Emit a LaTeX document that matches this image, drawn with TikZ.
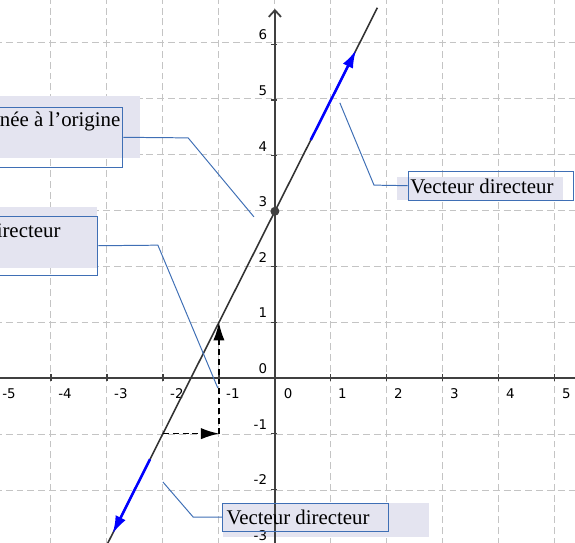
\documentclass[tikz,border=0pt]{standalone}
\usepackage{fontspec}
\setmainfont{Liberation Serif}
\newfontfamily\tickfont{DejaVu Sans}
\usetikzlibrary{arrows.meta}

\definecolor{shade}{HTML}{E4E4F0}
\definecolor{frame}{HTML}{3F6FB5}
\definecolor{gridgray}{HTML}{C4C4C4}

\tikzset{
    gridline/.style={gridgray, line width=0.5pt, dash pattern=on 3.5pt off 2pt},
    axisline/.style={black!75, line width=0.9pt},
    tick/.style={font=\tickfont\fontsize{6.8}{7}\selectfont, inner sep=0pt},
    callbox/.style={draw=frame, line width=0.5pt, inner sep=0pt},
    shadebox/.style={fill=shade, inner sep=0pt},
    calltext/.style={font=\fontsize{10.6}{12}\selectfont, inner sep=0pt},
    leader/.style={frame, line width=0.5pt},
    vec/.style={blue, line width=1.3pt, -{Latex[length=3.2mm, width=2mm]}},
    pentearrow/.style={black, line width=0.7pt, dash pattern=on 3pt off 2pt, -{Latex[length=3.2mm, width=2mm]}},
}

\begin{document}
\begin{tikzpicture}[>=Stealth, semithick, x=1cm, y=0.993cm]
    \useasboundingbox (-4.91,-2.95) rectangle (5.36,6.80);
    % grille
    \draw[gridline] (-5,-3) grid (5.5,6.9);
    % cadres des legendes (fond)
    \node[shadebox, minimum width=3.57cm, minimum height=1.11cm] (fondOrig) at (-4.20,4.51) {};
    \node[shadebox, minimum width=3.34cm, minimum height=1.09cm] (fondDirA) at (-4.85,2.53) {};
    \node[shadebox, minimum width=2.96cm, minimum height=0.41cm] (fondDirB) at (3.66,3.41) {};
    \node[shadebox, minimum width=3.68cm, minimum height=0.61cm] (fondDirC) at (0.91,-2.55) {};
    % axes
    \draw[axisline] (-5.2,0) -- (5.5,0);
    \draw[axisline, -{Straight Barb[length=1.2mm, width=2.2mm]}] (0,-3.2) -- (0,6.64);
    \foreach \x in {-5,-4,-3,-2,-1,1,2,3,4,5} {
        \draw[axisline, line width=0.6pt] (\x,-0.05) -- (\x,0.07);
        \node[tick, anchor=north west] (xl\x) at (\x+0.12,-0.18) {\x};
    }
    \node[tick, anchor=north west] (xl0) at (0.15,-0.18) {0};
    \foreach \y in {-3,-2,-1,1,2,3,4,5,6} {
        \draw[axisline, line width=0.6pt] (-0.07,\y) -- (0.03,\y);
        \node[tick, anchor=south east] (yl\y) at (-0.13,\y+0.07) {\y};
    }
    \node[tick, anchor=south east] (yl0) at (-0.13,0.07) {0};
    % droite y = 2x + 3
    \coordinate (bas) at (-3,-3);
    \coordinate (haut) at (1.83,6.66);
    \draw[black!80, line width=0.8pt] (bas) -- (haut);
    % vecteurs directeurs
    \coordinate (u1) at (0.64,4.28);
    \coordinate (u2) at (1.45,5.90);
    \coordinate (v1) at (-2.23,-1.46);
    \coordinate (v2) at (-2.90,-2.80);
    \draw[vec] (u1) -- (u2);
    \draw[vec] (v1) -- (v2);
    % pente : +1 puis +2
    \coordinate (A) at (-2,-1);
    \coordinate (B) at (-1,-1);
    \coordinate (C) at (-1,1);
    \draw[pentearrow] (A) -- (B);
    \draw[pentearrow] (B) -- (C);
    \node[circle, fill=black!75, inner sep=0pt, minimum size=0.16cm] (P) at (0,3) {};
    % cadres des legendes (contour)
    \node[callbox, minimum width=3.27cm, minimum height=1.07cm] (boxOrig) at (-4.35,4.33) {};
    \node[callbox, minimum width=3.36cm, minimum height=1.05cm] (boxDirA) at (-4.84,2.38) {};
    \node[callbox, minimum width=2.96cm, minimum height=0.52cm] (boxDirB) at (3.86,3.46) {};
    \node[callbox, minimum width=2.96cm, minimum height=0.50cm] (boxDirC) at (0.55,-2.50) {};
    \node[calltext, anchor=east] (txtOrig) at (-2.75,4.62) {Ordonnée à l’origine};
    \node[calltext, anchor=east] (txtDirA) at (-3.82,2.66) {Vecteur directeur};
    \node[calltext, anchor=west] (txtDirB) at (2.41,3.45) {Vecteur directeur};
    \node[calltext, anchor=west] (txtDirC) at (-0.875,-2.50) {Vecteur directeur};
    % traits de rappel
    \coordinate (kOrig) at (-1.55,4.32);
    \coordinate (pOrig) at (-0.375,2.90);
    \coordinate (kDirA) at (-2.09,2.39);
    \coordinate (pDirA) at (-1.02,-0.18);
    \coordinate (kDirB) at (1.77,3.47);
    \coordinate (pDirB) at (1.16,4.95);
    \coordinate (kDirC) at (-1.46,-2.50);
    \coordinate (pDirC) at (-2.00,-1.87);
    \draw[leader] (boxOrig.east) -- (kOrig) -- (pOrig);
    \draw[leader] (boxDirA.east) -- (kDirA) -- (pDirA);
    \draw[leader] (boxDirB.west) -- (kDirB) -- (pDirB);
    \draw[leader] (boxDirC.west) -- (kDirC) -- (pDirC);
\end{tikzpicture}
\end{document}
